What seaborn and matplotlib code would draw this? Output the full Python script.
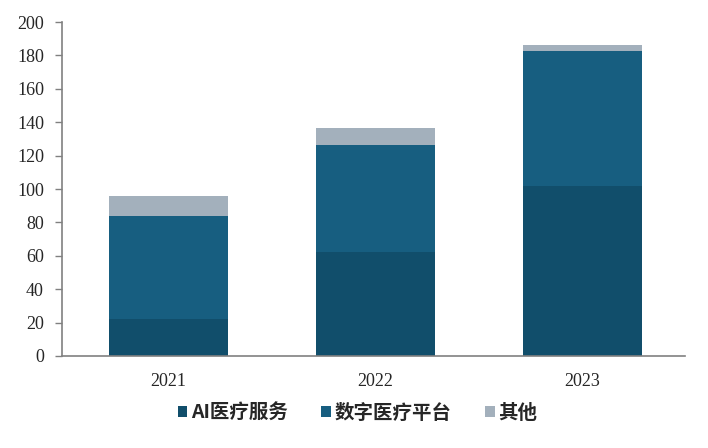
import numpy as np
import pandas as pd
import matplotlib
matplotlib.use("Agg")
import matplotlib.pyplot as plt
import seaborn as sns
from matplotlib.patches import Patch

# data
years = ["2021", "2022", "2023"]
ai_service = [22.2, 62.3, 101.8]
digital_platform = [61.6, 64.0, 80.8]
others = [12.0, 10.2, 3.6]
series_names = ["AI医疗服务", "数字医疗平台", "其他"]
colors = ["#114E6B", "#175E80", "#A3B0BC"]

df = pd.DataFrame({"year": years, "ai": ai_service, "digital": digital_platform, "other": others})
df["lvl1"] = df["ai"]
df["lvl2"] = df["ai"] + df["digital"]
df["lvl3"] = df["lvl2"] + df["other"]

sns.set_style("white")
plt.rcParams["font.family"] = ["Liberation Serif", "DejaVu Serif"]

fig = plt.figure(figsize=(7.08, 4.48), dpi=100)
ax = fig.add_axes([62 / 708, 1 - 356 / 448, (685 - 62) / 708, (356 - 22) / 448])

# stacked bars: draw cumulative totals from top layer down
for col, c in zip(["lvl3", "lvl2", "lvl1"], colors[::-1]):
    sns.barplot(data=df, x="year", y=col, color=c, width=0.575, saturation=1,
                linewidth=0, edgecolor="none", ax=ax)

ax.set_ylim(0, 200)
ax.set_xlim(-0.515, 2.495)
ax.set_yticks(range(0, 201, 20))
ax.set_xlabel("")
ax.set_ylabel("")
ax.tick_params(axis="y", which="both", left=True, length=5, width=1, color="#808080",
               labelsize=13, pad=8, direction="out")
ax.tick_params(axis="x", bottom=False, labelsize=13, pad=9)
for s in ["top", "right"]:
    ax.spines[s].set_visible(False)
for s in ["left", "bottom"]:
    ax.spines[s].set_color("#808080")
    ax.spines[s].set_linewidth(1.2)

handles = [Patch(facecolor=c, edgecolor="none") for c in colors]
leg = fig.legend(handles, series_names, loc="center", bbox_to_anchor=(0.505, 1 - 413 / 448),
                 ncol=3, frameon=False, handlelength=0.5, handleheight=0.5,
                 handletextpad=0.2, columnspacing=1.7,
                 prop={"family": ["Noto Sans CJK SC", "DejaVu Sans"], "size": 14, "weight": "bold"})

fig.savefig("out.png", dpi=100)
